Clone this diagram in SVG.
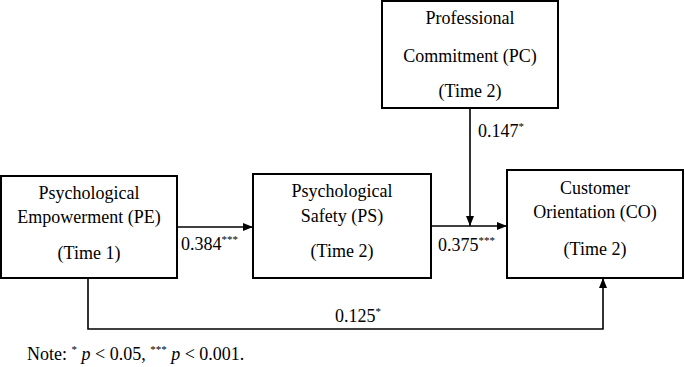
<svg xmlns="http://www.w3.org/2000/svg" width="685" height="367" viewBox="0 0 685 367">
<style>
text{font-family:"Liberation Serif","Times New Roman",serif;font-size:18px;fill:#000}
.box{fill:#fff;stroke:#000;stroke-width:2}
.c{text-anchor:middle}
.ln{fill:none;stroke:#000;stroke-width:1.6}
.sup{font-size:11px}
</style>
<defs>
<marker id="ah" markerWidth="10" markerHeight="8" refX="10" refY="4" orient="auto" markerUnits="userSpaceOnUse">
<path d="M0,0 L10,4 L0,8 Z" fill="#000"/>
</marker>
</defs>
<rect width="685" height="367" fill="#fff"/>
<g id="connectors">
<line class="ln" x1="177" y1="227" x2="253" y2="227" marker-end="url(#ah)"/>
<line class="ln" x1="431" y1="226" x2="507" y2="226" marker-end="url(#ah)"/>
<line class="ln" x1="470" y1="108" x2="470" y2="226" marker-end="url(#ah)"/>
<polyline class="ln" points="88,278 88,329 603,329 603,278" marker-end="url(#ah)"/>
<text x="181" y="250">0.384<tspan class="sup" dy="-7">***</tspan></text>
<text x="438" y="251">0.375<tspan class="sup" dy="-7">***</tspan></text>
<text x="478" y="137">0.147<tspan class="sup" dy="-7">*</tspan></text>
<text x="335" y="322">0.125<tspan class="sup" dy="-7">*</tspan></text>
</g>
<g id="PE">
<rect class="box" x="1" y="176" width="176" height="102"/>
<text class="c" x="89" y="199">Psychological</text>
<text class="c" x="89" y="223">Empowerment (PE)</text>
<text class="c" x="89" y="259">(Time 1)</text>
</g>
<g id="PS">
<rect class="box" x="253" y="174" width="178" height="104"/>
<text class="c" x="342" y="197">Psychological</text>
<text class="c" x="342" y="222">Safety (PS)</text>
<text class="c" x="342" y="257">(Time 2)</text>
</g>
<g id="PC">
<rect class="box" x="382" y="1" width="176" height="107"/>
<text class="c" x="470" y="24">Professional</text>
<text class="c" x="470" y="62">Commitment (PC)</text>
<text class="c" x="470" y="97">(Time 2)</text>
</g>
<g id="CO">
<rect class="box" x="507" y="170" width="176" height="108"/>
<text class="c" x="595" y="194">Customer</text>
<text class="c" x="595" y="218">Orientation (CO)</text>
<text class="c" x="595" y="255">(Time 2)</text>
</g>
<g id="note">
<text x="27" y="360">Note: <tspan class="sup" dy="-7">*</tspan><tspan dy="7" font-style="italic"> p</tspan> &lt; 0.05, <tspan class="sup" dy="-7">***</tspan><tspan dy="7" font-style="italic"> p</tspan> &lt; 0.001.</text>
</g>
</svg>
